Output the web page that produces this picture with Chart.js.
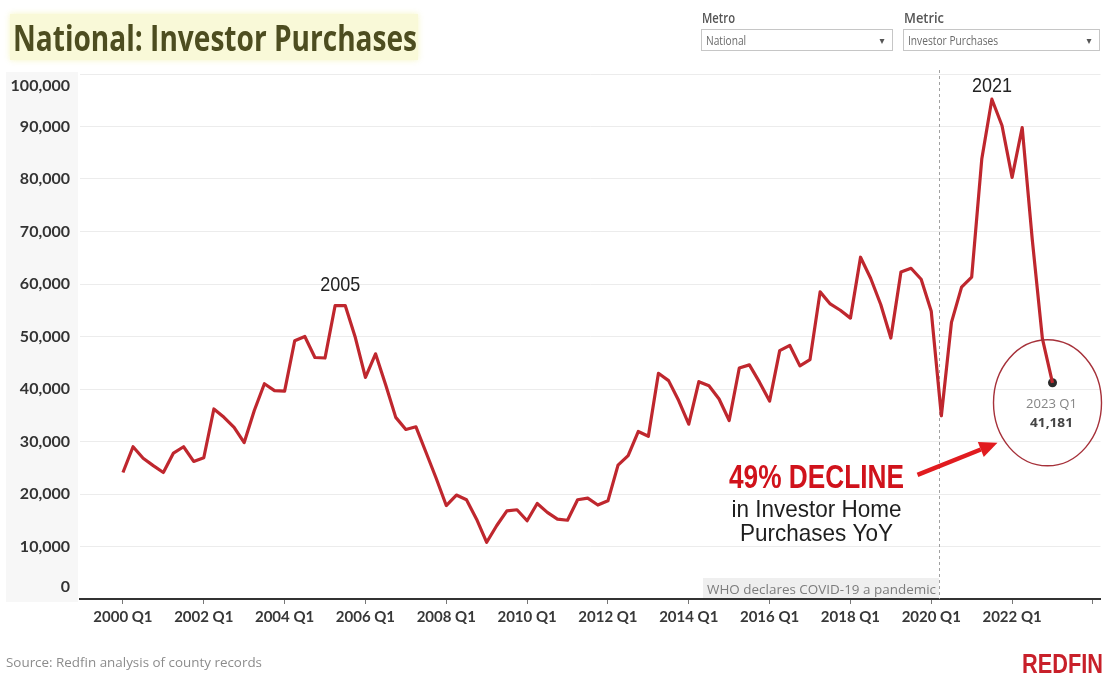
<!DOCTYPE html>
<html>
<head>
<meta charset="utf-8">
<title>National: Investor Purchases</title>
<script src="https://cdn.jsdelivr.net/npm/chart.js@4.4.1/dist/chart.umd.min.js"></script>
<style>
  html, body { margin: 0; padding: 0; background: #fff; overflow: hidden; width: 1105px; height: 675px; }
  #chart { position: absolute; left: 0; top: 0; }
</style>
</head>
<body>
<canvas id="chart" width="1105" height="675"></canvas>
<script>
// Quarterly investor home purchases, United States, 2000 Q1 – 2023 Q1
const firstYear = 2000;
const purchases = [
  24100, 29000, 26800, 25400,   // 2000
  24100, 27800, 29000, 26200,   // 2001
  26900, 36200, 34600, 32700,   // 2002
  29800, 35900, 41000, 39700,   // 2003
  39600, 49200, 50000, 46000,   // 2004
  45900, 55900, 55900, 49800,   // 2005
  42200, 46700, 40800, 34600,   // 2006
  32300, 32800, 27900, 23000,   // 2007
  17800, 19800, 18900, 15200,   // 2008
  10800, 14000, 16800, 17000,   // 2009
  14900, 18200, 16500, 15200,   // 2010
  15000, 18900, 19200, 17900,   // 2011
  18700, 25500, 27300, 31900,   // 2012
  31000, 43000, 41600, 37800,   // 2013
  33300, 41400, 40600, 38100,   // 2014
  34000, 44000, 44600, 41300,   // 2015
  37700, 47300, 48300, 44400,   // 2016
  45600, 58500, 56200, 55000,   // 2017
  53500, 65100, 61100, 56100,   // 2018
  49700, 62300, 63000, 60900,   // 2019
  54800, 34900, 52700, 59400,   // 2020
  61300, 83800, 95200, 90200,   // 2021
  80300, 89800, 68400, 49600,   // 2022
  41181                         // 2023
];
const xTickLabels = ['2000 Q1', '2002 Q1', '2004 Q1', '2006 Q1', '2008 Q1', '2010 Q1',
                     '2012 Q1', '2014 Q1', '2016 Q1', '2018 Q1', '2020 Q1', '2022 Q1'];
const xTickYears = [2000, 2002, 2004, 2006, 2008, 2010, 2012, 2014, 2016, 2018, 2020, 2022, 2024];
const yTickValues = [0, 10000, 20000, 30000, 40000, 50000, 60000, 70000, 80000, 90000, 100000];
const peakLabels = [
  { text: '2005', quarter: '2005 Q2' },
  { text: '2021', quarter: '2021 Q3' }
];
const covidQuarter = '2020 Q1';
const covidDayOfQuarter = 70 / 91; // 11 March
const covidText = 'WHO declares COVID-19 a pandemic';
const declineHeadline = '49% DECLINE';
const declineLines = ['in Investor Home', 'Purchases YoY'];

const quarterName = i => `${firstYear + Math.floor(i / 4)} Q${(i % 4) + 1}`;
const quarterIndex = name => {
  const [y, q] = name.split(' Q');
  return (Number(y) - firstYear) * 4 + Number(q) - 1;
};
const lastIdx = purchases.length - 1;
const lastValue = purchases[lastIdx];

// Text helper: draws text squeezed horizontally to a given width (or by a given factor)
function drawText(ctx, text, x, y, font, color, align, width, sx) {
  ctx.save();
  ctx.font = font;
  ctx.fillStyle = color;
  ctx.textBaseline = 'alphabetic';
  ctx.textAlign = align;
  let k = sx || 1;
  if (width) k = width / ctx.measureText(text).width;
  ctx.translate(x, y);
  ctx.scale(k, 1);
  ctx.fillText(text, 0, 0);
  ctx.restore();
}

function dropdown(ctx, label, value, x, w) {
  drawText(ctx, label, x + 1, 23, '600 14px "Open Sans"', '#555', 'left', label === 'Metro' ? 33 : 40);
  ctx.save();
  ctx.fillStyle = '#fff';
  ctx.strokeStyle = '#c6c6c6';
  ctx.lineWidth = 1;
  ctx.fillRect(x + 0.5, 29.5, w, 21);
  ctx.strokeRect(x + 0.5, 29.5, w, 21);
  ctx.restore();
  drawText(ctx, value, x + 5, 45, '12px "Open Sans"', '#6a6a6a', 'left', null, 0.85);
  drawText(ctx, '▾', x + w - 10, 44, '10px "DejaVu Sans"', '#555', 'center');
}

const decor = {
  id: 'decor',
  beforeDraw(chart) {
    const ctx = chart.ctx;
    // background band behind the value axis
    ctx.save();
    ctx.fillStyle = '#f7f7f7';
    ctx.fillRect(6, 72, 72, 530);
    // title highlight
    ctx.shadowColor = 'rgba(245,245,190,0.9)';
    ctx.shadowBlur = 6;
    ctx.fillStyle = '#f9f9d8';
    ctx.fillRect(10, 14, 408, 46);
    ctx.restore();
    drawText(ctx, 'National: Investor Purchases', 13, 51, 'bold 36px "Open Sans"', '#4d4d20', 'left', 404);
    dropdown(ctx, 'Metro', 'National', 701, 191);
    dropdown(ctx, 'Metric', 'Investor Purchases', 903, 196);
    drawText(ctx, 'Source: Redfin analysis of county records', 6, 667, '13px "Open Sans"', '#8c8c8c', 'left', 256);
    drawText(ctx, 'REDFIN', 1022, 673, 'bold 27px "Liberation Sans"', '#c8202a', 'left', 81);
  },
  beforeDatasetsDraw(chart) {
    const ctx = chart.ctx;
    const xs = chart.scales.x;
    const area = chart.chartArea;
    const cx = xs.getPixelForValue(quarterIndex(covidQuarter) + covidDayOfQuarter);
    ctx.save();
    ctx.fillStyle = '#efefef';
    ctx.fillRect(cx - 236, area.bottom - 21, 236, 20);
    ctx.strokeStyle = '#a0a0a0';
    ctx.lineWidth = 1;
    ctx.setLineDash([3, 3]);
    ctx.beginPath();
    ctx.moveTo(Math.round(cx) + 0.5, area.top - 4);
    ctx.lineTo(Math.round(cx) + 0.5, area.bottom);
    ctx.stroke();
    ctx.restore();
    drawText(ctx, covidText, cx - 3, area.bottom - 5, '13px "Open Sans"', '#7c7c7c', 'right', 229);
  },
  afterDatasetsDraw(chart) {
    const ctx = chart.ctx;
    const xs = chart.scales.x, ys = chart.scales.y;
    const area = chart.chartArea;

    // value axis labels; the end labels are kept inside the plot
    ctx.save();
    ctx.font = 'bold 16px Lato';
    ctx.fillStyle = '#333';
    ctx.textAlign = 'right';
    ctx.textBaseline = 'middle';
    yTickValues.forEach(v => {
      let y = ys.getPixelForValue(v);
      y = Math.min(Math.max(y, area.top + 12), area.bottom - 12);
      ctx.fillText(v.toLocaleString('en-US'), 70, y);
    });
    ctx.restore();

    // peak year labels
    peakLabels.forEach(p => {
      const i = quarterIndex(p.quarter);
      const x = p.text === '2005' ? (xs.getPixelForValue(i) + xs.getPixelForValue(i + 1)) / 2 : xs.getPixelForValue(i);
      const y = ys.getPixelForValue(purchases[i]);
      drawText(ctx, p.text, x, y - (p.text === '2005' ? 15 : 7), '21px "Liberation Sans"', '#222', 'center', 40);
    });

    // callout around the latest quarter
    const px = xs.getPixelForValue(lastIdx);
    const py = ys.getPixelForValue(lastValue);
    const ex = px - 5, ey = py + 20;
    ctx.save();
    ctx.strokeStyle = '#a6313a';
    ctx.lineWidth = 1.4;
    ctx.beginPath();
    ctx.ellipse(ex, ey, 54, 63, 0, 0, Math.PI * 2);
    ctx.stroke();
    ctx.restore();
    drawText(ctx, quarterName(lastIdx), ex + 4, ey + 5, '13px "Open Sans"', '#858585', 'center', 51);
    drawText(ctx, lastValue.toLocaleString('en-US'), ex + 4, ey + 24, 'bold 13px "Open Sans"', '#444', 'center', 43);

    // arrow
    const tip = { x: ex - 50, y: ey + 40 };
    const tail = { x: ex - 130, y: ey + 72 };
    const ang = Math.atan2(tip.y - tail.y, tip.x - tail.x);
    const headLen = 18, headW = 8;
    const bx = tip.x - headLen * Math.cos(ang), by = tip.y - headLen * Math.sin(ang);
    ctx.save();
    ctx.strokeStyle = '#e11b1f';
    ctx.fillStyle = '#e11b1f';
    ctx.lineWidth = 4.5;
    ctx.beginPath();
    ctx.moveTo(tail.x, tail.y);
    ctx.lineTo(bx, by);
    ctx.stroke();
    ctx.beginPath();
    ctx.moveTo(tip.x, tip.y);
    ctx.lineTo(bx + headW * Math.sin(ang), by - headW * Math.cos(ang));
    ctx.lineTo(bx - headW * Math.sin(ang), by + headW * Math.cos(ang));
    ctx.closePath();
    ctx.fill();
    ctx.restore();

    // decline note
    const tx = ex - 231;
    drawText(ctx, declineHeadline, tx, ey + 85, 'bold 34px "Liberation Sans"', '#d0121b', 'center', 175);
    drawText(ctx, declineLines[0], tx, ey + 114, '24px "Liberation Sans"', '#1e1e1e', 'center', 170);
    drawText(ctx, declineLines[1], tx, ey + 138.5, '24px "Liberation Sans"', '#1e1e1e', 'center', 153);
  }
};

new Chart(document.getElementById('chart'), {
  type: 'line',
  data: {
    datasets: [
      {
        label: 'Investor Purchases',
        data: purchases.map((v, i) => ({ x: i, y: v })),
        borderColor: '#bf272e',
        borderWidth: 3.2,
        borderJoinStyle: 'round',
        pointRadius: 0,
        tension: 0
      },
      {
        label: quarterName(lastIdx),
        data: [{ x: lastIdx, y: lastValue }],
        showLine: false,
        pointRadius: 4.5,
        pointBackgroundColor: '#2a2a2a',
        pointBorderWidth: 0
      }
    ]
  },
  options: {
    responsive: false,
    animation: false,
    layout: { padding: { top: 74, left: 80, right: 0, bottom: 0 } },
    plugins: { legend: { display: false }, tooltip: { enabled: false } },
    scales: {
      x: {
        type: 'linear',
        min: -4.25,
        max: 96.75,
        afterBuildTicks: s => { s.ticks = xTickYears.map(y => ({ value: (y - firstYear) * 4 })); },
        afterFit: s => { s.height = 76; },
        ticks: {
          autoSkip: false,
          maxRotation: 0,
          padding: 4,
          color: '#383838',
          font: { family: 'Lato', weight: 'bold', size: 15 },
          callback: v => xTickLabels[v / 8] || ''
        },
        grid: { drawOnChartArea: false, drawTicks: true, tickLength: 5, color: '#777' },
        border: { display: true, color: '#333', width: 2 }
      },
      y: {
        min: 0,
        max: 100000,
        afterBuildTicks: s => { s.ticks = yTickValues.map(v => ({ value: v })); },
        afterFit: s => { s.width = 0; },
        ticks: { display: false },
        grid: { color: '#ececec', drawTicks: false },
        border: { display: false }
      }
    }
  },
  plugins: [decor]
});
</script>
</body>
</html>
